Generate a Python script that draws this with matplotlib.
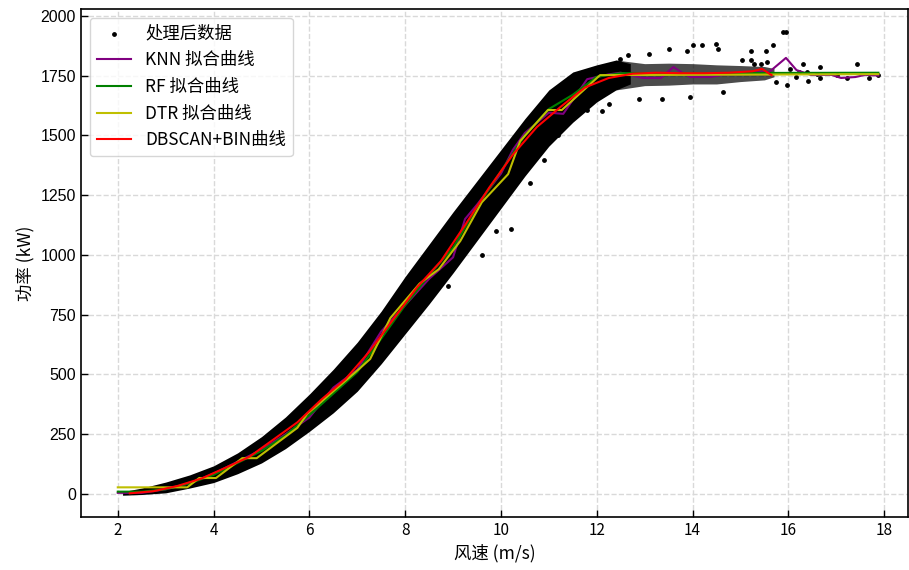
import matplotlib
matplotlib.use("Agg")
import matplotlib.pyplot as plt

plt.rcParams['font.family'] = ['Noto Sans CJK SC', 'DejaVu Sans']
plt.rcParams['axes.unicode_minus'] = False

# ---- data ----
# dense band of processed data (lower / upper edges)
band_x = [2.1, 2.5, 3.0, 3.5, 4.0, 4.5, 5.0, 5.5, 6.0, 6.5, 7.0, 7.5, 8.0, 8.5,
          9.0, 9.5, 10.0, 10.5, 11.0, 11.5, 12.0, 12.4, 12.7]
band_lo = [-5, -2, 5, 25, 48, 85, 130, 190, 262, 340, 430, 545, 670, 795,
           925, 1060, 1195, 1330, 1455, 1555, 1640, 1690, 1715]
band_hi = [10, 25, 50, 80, 118, 172, 240, 322, 418, 522, 635, 765, 910, 1045,
           1180, 1310, 1440, 1570, 1690, 1765, 1795, 1815, 1800]
# sparse plateau part of the data
plat_x = [12.4, 13.0, 13.5, 14.0, 14.5, 15.0, 15.5, 15.7]
plat_lo = [1690, 1708, 1710, 1715, 1715, 1725, 1732, 1745]
plat_hi = [1815, 1800, 1802, 1800, 1795, 1792, 1788, 1780]
# individually visible data points
pts_x = [13.5, 14.01, 14.2, 14.48, 14.53, 13.88, 12.89, 13.36, 13.95, 14.64,
         15.54, 15.68, 15.88, 15.95, 16.31, 15.97, 15.75, 16.41, 16.67, 16.67,
         17.44, 17.23, 17.68, 17.87, 16.39, 16.6, 17.02, 16.15, 16.22, 16.04,
         15.42, 15.28, 15.21, 15.56, 12.25, 11.8, 11.62, 12.66, 12.49, 15.21,
         15.03, 10.9, 10.6, 10.2, 9.6, 9.9, 11.2, 8.9, 12.1, 13.1]
pts_y = [1860, 1877, 1877, 1881, 1860, 1853, 1651, 1651, 1661, 1680,
         1853, 1877, 1933, 1933, 1800, 1710, 1724, 1728, 1784, 1738,
         1798, 1738, 1738, 1752, 1766, 1756, 1752, 1745, 1766, 1776,
         1800, 1800, 1817, 1807, 1630, 1605, 1608, 1835, 1821, 1852,
         1817, 1395, 1300, 1110, 1000, 1100, 1500, 870, 1600, 1840]

# KNN fitted curve
knn_x = [2.0, 2.5, 3.0, 3.5, 4.0, 4.5, 5.0, 5.5, 6.0, 6.5, 7.0, 7.5, 8.0, 8.5,
         9.0, 9.25, 9.5, 10.0, 10.25, 10.5, 11.0, 11.3, 11.8, 12.25, 12.5,
         12.96, 13.34, 13.6, 13.76, 13.95, 14.37, 14.64, 15.0, 15.34, 15.6,
         15.95, 16.17, 16.47, 16.9, 17.1, 17.4, 17.6, 17.88]
knn_y = [5, 5, 20, 45, 85, 135, 185, 250, 320, 445, 520, 680, 790, 900,
         990, 1150, 1210, 1340, 1440, 1510, 1595, 1590, 1735, 1755, 1762,
         1740, 1740, 1786, 1765, 1744, 1744, 1753, 1760, 1765, 1765,
         1824, 1773, 1753, 1753, 1740, 1744, 1753, 1750]
# RF fitted curve
rf_x = [2.0, 2.5, 3.0, 3.5, 4.0, 4.5, 5.0, 5.5, 6.0, 6.5, 7.0, 7.5, 8.0, 8.5,
        9.0, 9.5, 10.0, 10.5, 11.0, 11.5, 12.0, 12.5, 17.88]
rf_y = [10, 10, 20, 45, 80, 130, 180, 245, 330, 420, 510, 650, 790, 915,
        1030, 1200, 1350, 1500, 1610, 1670, 1745, 1760, 1762]
# DTR fitted curve
dtr_x = [2.0, 3.45, 3.7, 4.05, 4.6, 4.9, 5.75, 5.95, 6.5, 7.06, 7.27, 7.69,
         8.3, 8.7, 9.15, 9.6, 10.15, 10.4, 10.98, 11.27, 12.07, 17.88]
dtr_y = [28, 28, 67, 67, 150, 150, 277, 334, 430, 527, 565, 736,
         880, 940, 1058, 1220, 1338, 1476, 1606, 1606, 1752, 1756]
# DBSCAN+BIN curve
bin_x = [2.25, 2.75, 3.25, 3.75, 4.25, 4.75, 5.25, 5.75, 6.25, 6.75, 7.25,
         7.75, 8.25, 8.75, 9.25, 9.75, 10.25, 10.75, 11.25, 11.75, 12.25,
         12.75, 13.25, 13.75, 14.25, 14.75, 15.25, 15.45, 15.65]
bin_y = [3, 12, 34, 65, 110, 156, 228, 300, 395, 480, 595, 730, 865, 975,
         1125, 1280, 1420, 1535, 1620, 1700, 1740, 1758, 1762, 1760, 1760,
         1762, 1768, 1778, 1752]

fig = plt.figure(figsize=(9.09, 5.70), dpi=100)
ax = fig.add_axes([0.089, 0.093, 0.910, 0.891])

ax.fill_between(band_x, band_lo, band_hi, color='black', linewidth=0, zorder=2)
ax.fill_between(plat_x, plat_lo, plat_hi, color='black', alpha=0.7, linewidth=0, zorder=2)
ax.scatter(pts_x, pts_y, s=6, color='black', label='处理后数据', zorder=2)

ax.plot(knn_x, knn_y, color='purple', lw=1.5, label='KNN 拟合曲线', zorder=3)
ax.plot(rf_x, rf_y, color='green', lw=1.5, label='RF 拟合曲线', zorder=3)
ax.plot(dtr_x, dtr_y, color='y', lw=1.5, label='DTR 拟合曲线', zorder=3)
ax.plot(bin_x, bin_y, color='red', lw=1.5, label='DBSCAN+BIN曲线', zorder=3)

ax.set_xlim(1.23, 18.5)
ax.set_ylim(-96, 2028)
ax.set_xticks([2, 4, 6, 8, 10, 12, 14, 16, 18])
ax.set_yticks([0, 250, 500, 750, 1000, 1250, 1500, 1750, 2000])
ax.tick_params(direction='in', length=5, width=1)
for lab in ax.get_yticklabels():
    lab.set_fontfamily('Liberation Sans')
    lab.set_fontsize(11.5)
for lab in ax.get_xticklabels():
    lab.set_fontsize(11)

ax.grid(True, linestyle='--', color='#d9d9d9', linewidth=1, zorder=0)
ax.set_axisbelow(True)
for s in ax.spines.values():
    s.set_linewidth(1.2)

ax.set_xlabel('风速 (m/s)', fontsize=12.5)
ax.set_ylabel('功率 (kW)', fontsize=12.5)

ax.legend(loc='upper left', fontsize=12.5, markerscale=1.0, borderaxespad=0.5)

fig.savefig('out.png', dpi=100)
